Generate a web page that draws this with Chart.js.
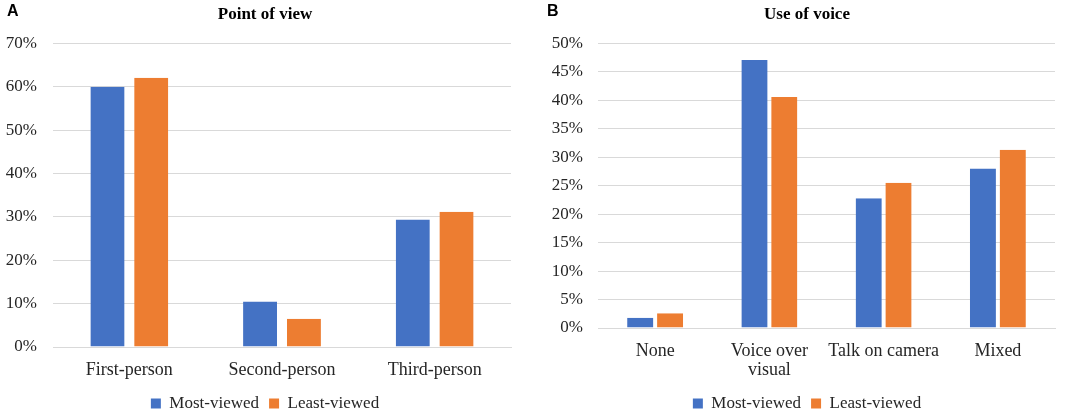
<!DOCTYPE html>
<html>
<head>
<meta charset="utf-8">
<script src="https://cdn.jsdelivr.net/npm/chart.js@4.4.1/dist/chart.umd.min.js"></script>
<style>
  html, body { margin: 0; padding: 0; background: #fff; overflow: hidden; }
  #wrap { position: relative; width: 1084px; height: 417px; overflow: hidden; }
  .panel { position: absolute; top: 0; height: 422px; }
  #pA { left: 0; width: 540px; }
  #pB { left: 540px; width: 544px; }
  .tag { position: absolute; top: 2px; font: bold 16px "Liberation Sans", Arial, sans-serif; color: #000; }
</style>
</head>
<body>
<div id="wrap">
  <div class="panel" id="pA"><canvas id="chartA"></canvas></div>
  <div class="panel" id="pB"><canvas id="chartB"></canvas></div>
  <div class="tag" style="left:7px">A</div>
  <div class="tag" style="left:547px">B</div>
</div>
<script>
// data (percent)
var seriesNames = ['Most-viewed', 'Least-viewed'];

var povCategories = ['First-person', 'Second-person', 'Third-person'];
var povMost = [60.0, 10.5, 29.4];
var povLeast = [62.1, 6.5, 31.2];
var povTicks = [0, 10, 20, 30, 40, 50, 60, 70];

var voiceCategories = ['None', ['Voice over', 'visual'], 'Talk on camera', 'Mixed'];
var voiceMost = [1.8, 47.1, 22.8, 28.0];
var voiceLeast = [2.6, 40.6, 25.5, 31.3];
var voiceTicks = [0, 5, 10, 15, 20, 25, 30, 35, 40, 45, 50];

var BLUE = '#4472C4', ORANGE = '#ED7D31';
var SERIF = '"Liberation Serif", "Times New Roman", serif';
var TXT = '#262626';
var GRID = '#d9d9d9';

function makeChart(id, title, cats, most, least, ticks, o) {
  return new Chart(document.getElementById(id), {
    type: 'bar',
    data: {
      labels: cats,
      datasets: [
        { label: seriesNames[0], data: most, backgroundColor: BLUE,
          borderColor: 'rgba(0,0,0,0)', borderWidth: { right: o.gap, left: 0, top: 0, bottom: 0 },
          categoryPercentage: o.catPct, barPercentage: 1 },
        { label: seriesNames[1], data: least, backgroundColor: ORANGE,
          borderColor: 'rgba(0,0,0,0)', borderWidth: { left: o.gap, right: 0, top: 0, bottom: 0 },
          categoryPercentage: o.catPct, barPercentage: 1 }
      ]
    },
    options: {
      responsive: true,
      maintainAspectRatio: false,
      animation: false,
      layout: { padding: { left: 0, right: 10, top: 0, bottom: 0 } },
      plugins: {
        tooltip: { enabled: false },
        title: {
          display: true, text: title, color: '#000',
          font: { family: SERIF, size: 17, weight: 'bold' },
          padding: { top: 4, bottom: 19 }
        },
        legend: {
          position: 'bottom',
          labels: {
            boxWidth: 10, boxHeight: 10, padding: 10, color: TXT,
            font: { family: SERIF, size: 17 }
          }
        }
      },
      scales: {
        x: {
          grid: { display: false },
          border: { display: true, color: GRID },
          ticks: { color: TXT, padding: 6, maxRotation: 0, autoSkip: false,
                   font: { family: SERIF, size: 18, lineHeight: 1.06 } },
          afterFit: function (s) { s.height = o.xHeight; }
        },
        y: {
          min: ticks[0], max: ticks[ticks.length - 1],
          afterBuildTicks: function (s) { s.ticks = ticks.map(function (v) { return { value: v }; }); },
          grid: { color: GRID, drawTicks: false },
          border: { display: false },
          ticks: { color: TXT, padding: o.tickPad,
                   font: { family: SERIF, size: 17 },
                   callback: function (v) { return v + '%'; } },
          afterFit: function (s) { s.width = o.yWidth; }
        },
        // empty right-hand axis, only keeps the plot clear of the right edge
        yR: {
          position: 'right',
          grid: { display: false },
          border: { display: false },
          ticks: { display: false },
          afterFit: function (s) { s.width = 19; }
        }
      }
    }
  });
}

makeChart('chartA', 'Point of view', povCategories, povMost, povLeast, povTicks,
  { gap: 5, catPct: 0.51, yWidth: 53, tickPad: 16, xHeight: 38 });
makeChart('chartB', 'Use of voice', voiceCategories, voiceMost, voiceLeast, voiceTicks,
  { gap: 2, catPct: 0.49, yWidth: 58, tickPad: 15, xHeight: 57 });
</script>
</body>
</html>
